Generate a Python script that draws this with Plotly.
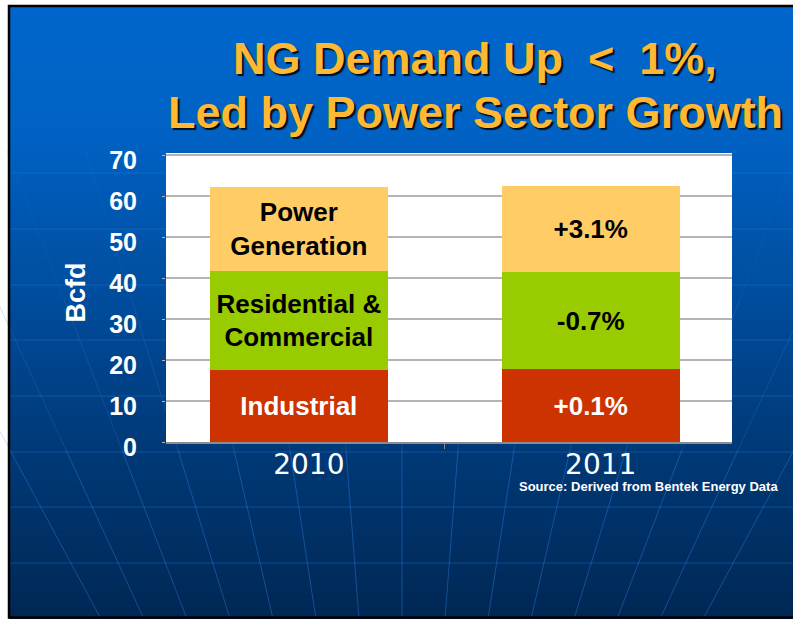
import plotly.graph_objects as go

# ---------------- data ----------------
years = ["2010", "2011"]
industrial = [17.6, 17.7]
residential = [24.1, 23.8]
power = [20.4, 21.0]
sector_labels = ["Industrial", "Residential &<br>Commercial", "Power<br>Generation"]
change_2011 = ["+0.1%", "-0.7%", "+3.1%"]
y_ticks = [0, 10, 20, 30, 40, 50, 60, 70]

title_lines = ["NG Demand Up&nbsp; &lt; &nbsp;1%,", "Led by Power Sector Growth"]
y_title = "Bcfd"
source_note = "Source: Derived from Bentek Energy Data"

# ---------------- layout helpers (pixel -> paper) ----------------
W, H = 793, 619
ML, MR, MT, MB = 166, 61, 153, 177
PW, PH = W - ML - MR, H - MT - MB


def px(x):
    return (x - ML) / PW


def py(y):
    return (H - MB - y) / PH


def lerp_color(y):
    stops = [(0, (0, 102, 204)), (130, (0, 98, 196)), (300, (0, 76, 156)),
             (450, (0, 57, 119)), (619, (0, 39, 84))]
    for (y0, c0), (y1, c1) in zip(stops[:-1], stops[1:]):
        if y0 <= y <= y1:
            t = (y - y0) / (y1 - y0)
            return "rgb(%d,%d,%d)" % tuple(round(a + (b - a) * t) for a, b in zip(c0, c1))
    return "rgb(%d,%d,%d)" % stops[-1][1]


shapes = []
# gradient background bands
step = 4
yy = 6
while yy < H:
    shapes.append(dict(type="rect", xref="paper", yref="paper", layer="below",
                       x0=px(9), x1=px(W + 2), y0=py(yy), y1=py(yy + step + 0.6),
                       fillcolor=lerp_color(yy + step / 2), line=dict(width=0)))
    yy += step
# faint globe latitude lines
for ly in [173, 229, 285, 340, 396, 452, 507, 563]:
    shapes.append(dict(type="line", xref="paper", yref="paper", layer="below",
                       x0=px(10), x1=px(W), y0=py(ly), y1=py(ly),
                       line=dict(color="rgba(40,125,225,0.35)", width=1)))
# faint globe meridians converging below the slide (fading upwards)


def meridian_x(i, y):
    # lines pass through 402+56*i at y=450 and converge at y=1178
    return 402 + 56 * i * (1178 - y) / (1178 - 450)


segs = [(619, 450, 0.42), (450, 300, 0.25), (300, 150, 0.12)]
for i in range(-7, 8):
    for ya, yb, a in segs:
        shapes.append(dict(type="line", xref="paper", yref="paper", layer="below",
                           x0=px(meridian_x(i, ya)), x1=px(meridian_x(i, yb)),
                           y0=py(ya), y1=py(yb),
                           line=dict(color="rgba(45,130,230,%.2f)" % a, width=1)))
# white plot area
shapes.append(dict(type="rect", xref="paper", yref="paper", layer="below",
                   x0=0, x1=1, y0=0, y1=1, fillcolor="white", line=dict(width=0)))
# slide frame
shapes.append(dict(type="rect", xref="paper", yref="paper", layer="above",
                   x0=px(9), x1=px(W + 5), y0=py(6), y1=py(617.5),
                   fillcolor="rgba(0,0,0,0)", line=dict(color="black", width=2.5)))

FONT = "Liberation Sans, Arial, sans-serif"

fig = go.Figure()
bar_common = dict(x=years, width=0.61, textposition="inside", insidetextanchor="middle",
                  marker_line_width=0, hoverinfo="skip", showlegend=False)
fig.add_trace(go.Bar(y=industrial, text=[sector_labels[0], change_2011[0]],
                     marker_color="#CC3300",
                     textfont=dict(family=FONT, size=26, color="white", weight="bold"),
                     **bar_common))
fig.add_trace(go.Bar(y=residential, text=[sector_labels[1], change_2011[1]],
                     marker_color="#99CC00",
                     textfont=dict(family=FONT, size=26, color="black", weight="bold"),
                     **bar_common))
fig.add_trace(go.Bar(y=power, text=[sector_labels[2], change_2011[2]],
                     marker_color="#FFCC66",
                     textfont=dict(family=FONT, size=26, color="black", weight="bold"),
                     **bar_common))

annotations = [
    dict(text=title_lines[0], x=px(475), y=py(59), xref="paper", yref="paper",
         xanchor="center", yanchor="middle", showarrow=False,
         font=dict(family=FONT, size=45, color="#FFB833", weight="bold",
                   shadow="2px 2px 1px rgba(0,0,0,0.85)")),
    dict(text=title_lines[1], x=px(475), y=py(112), xref="paper", yref="paper",
         xanchor="center", yanchor="middle", showarrow=False,
         font=dict(family=FONT, size=45, color="#FFB833", weight="bold",
                   shadow="2px 2px 1px rgba(0,0,0,0.85)")),
    dict(text=y_title, x=px(75.5), y=py(293), xref="paper", yref="paper",
         xanchor="center", yanchor="middle", showarrow=False, textangle=-90,
         font=dict(family=FONT, size=27, color="white", weight="bold")),
    dict(text=source_note, x=px(648), y=py(486), xref="paper", yref="paper",
         xanchor="center", yanchor="middle", showarrow=False,
         font=dict(family=FONT, size=13, color="white", weight="bold")),
]

fig.update_layout(
    width=W, height=H,
    margin=dict(l=ML, r=MR, t=MT, b=MB, pad=0),
    paper_bgcolor="white", plot_bgcolor="white",
    barmode="stack",
    shapes=shapes,
    annotations=annotations,
    xaxis=dict(type="category", range=[-0.455, 1.484], showgrid=False,
               showline=True, linecolor="#8C8C8C", linewidth=2,
               ticks="outside", tickson="boundaries", ticklen=5, tickcolor="#8C8C8C",
               tickfont=dict(family="DejaVu Sans", size=28, color="white"),
               ticklabelshift=10, ticklabelstandoff=-4, fixedrange=True),
    yaxis=dict(range=[0, 70.5], tickvals=y_ticks, showgrid=True,
               gridcolor="#B4B4B4", gridwidth=2, zeroline=False, showline=False,
               ticks="outside", ticklen=3, tickcolor="#B4B4B4",
               tickfont=dict(family=FONT, size=25, color="white", weight="bold"),
               ticklabelstandoff=20, ticklabelshift=5, fixedrange=True),
)

fig.write_html("out.html", config={"displayModeBar": False},
               post_script="document.body.style.margin='0';"
                           "document.body.style.overflow='hidden';")
